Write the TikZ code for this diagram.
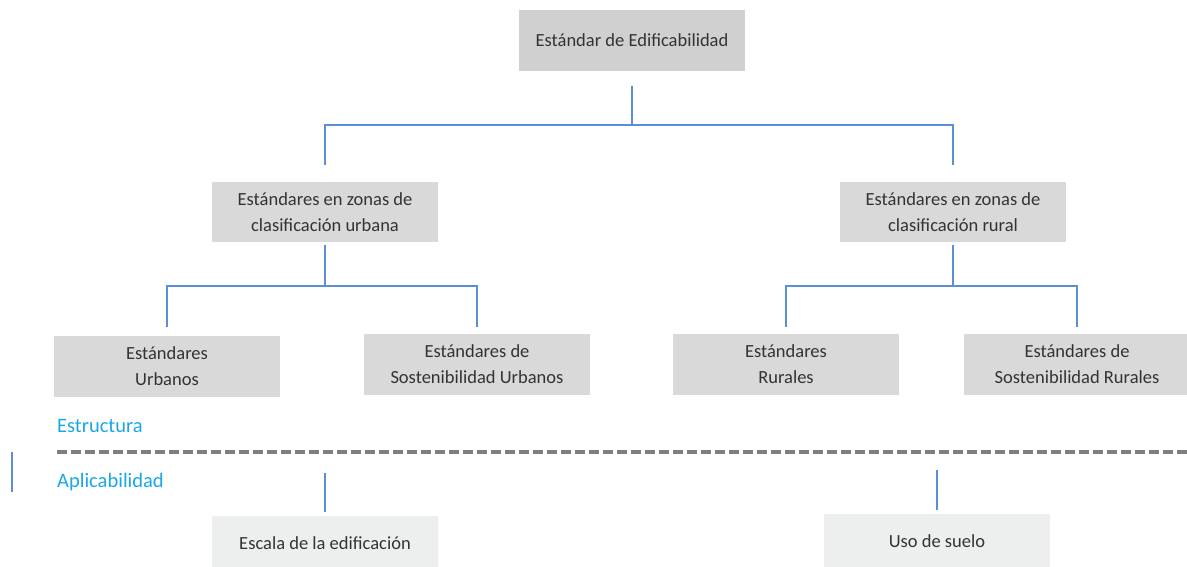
\documentclass[tikz,border=0pt]{standalone}
\usepackage{fontspec}
\setmainfont{Carlito}
\definecolor{boxgray}{HTML}{D9D9D9}
\definecolor{topgray}{HTML}{D0D0D0}
\definecolor{lightbox}{HTML}{EDEEEE}
\definecolor{connblue}{HTML}{5B8FD5}
\definecolor{labblue}{HTML}{1AA7E6}
\definecolor{txt}{HTML}{333333}
\definecolor{dashgray}{HTML}{7F7F7F}
\begin{document}
\begin{tikzpicture}[x=1pt,y=-1pt,
  box/.style={fill=boxgray, draw=none, minimum width=226pt, minimum height=61pt,
    align=center, text=txt, font=\fontsize{18.5}{26.5}\selectfont, inner sep=0pt},
  lbox/.style={box, fill=lightbox, minimum height=54pt},
  conn/.style={draw=connblue, line width=1.6pt},
  lab/.style={text=labblue, font=\fontsize{20.5}{24}\selectfont, anchor=west, inner sep=0pt}
]
\useasboundingbox (0,0) rectangle (1187,567);

% boxes
\node[box, fill=topgray] (top) at (632,40.5) {Estándar de Edificabilidad};
\node[box, minimum height=60pt] (urb) at (325,212) {Estándares en zonas de\\clasificación urbana};
\node[box, minimum height=60pt] (rur) at (953,212) {Estándares en zonas de\\clasificación rural};
\node[box] (su) at (167,366) {Estándares\\Urbanos};
\node[box] (ssu) at (477,364) {Estándares de\\Sostenibilidad Urbanos};
\node[box] (sr) at (786,364) {Estándares\\Rurales};
\node[box] (ssr) at (1077,364) {Estándares de\\Sostenibilidad Rurales};
\node[lbox] (esc) at (325,543) {Escala de la edificación};
\node[lbox] (uso) at (937,541) {Uso de suelo};

% labels
\node[lab] (estr) at (57,426) {Estructura};
\node[lab] (apl) at (57,482) {Aplicabilidad};

% bus coordinates
\coordinate (b1) at (632,125);
\coordinate (b2) at (325,286);
\coordinate (b3) at (953,286);

% level 1 connectors
\draw[conn] ([yshift=-15pt]top.south) -- (b1);
\draw[conn] ([yshift=17pt]urb.north) |- (b1) -| ([yshift=17pt]rur.north);
% level 2 connectors
\draw[conn] ([yshift=-3pt]urb.south) -- (b2);
\draw[conn] ([yshift=8pt]su.north) |- (b2) -| ([yshift=6pt]ssu.north);
\draw[conn] ([yshift=-3pt]rur.south) -- (b3);
\draw[conn] ([yshift=6pt]sr.north) |- (b3) -| ([yshift=6pt]ssr.north);

% dashed divider
\coordinate (d0) at (57,452);
\coordinate (d1) at (1187,452);
\draw[dashgray, line width=3.4pt, dash pattern=on 10pt off 4pt] (d0) -- (d1);

% small left mark
\coordinate (m0) at (12,452);
\coordinate (m1) at (12,492);
\draw[conn] (m0) -- (m1);

% applicability connectors
\draw[conn] ([yshift=43pt]esc.north) -- ([yshift=4pt]esc.north);
\draw[conn] ([yshift=44pt]uso.north) -- ([yshift=4pt]uso.north);
\end{tikzpicture}
\end{document}
